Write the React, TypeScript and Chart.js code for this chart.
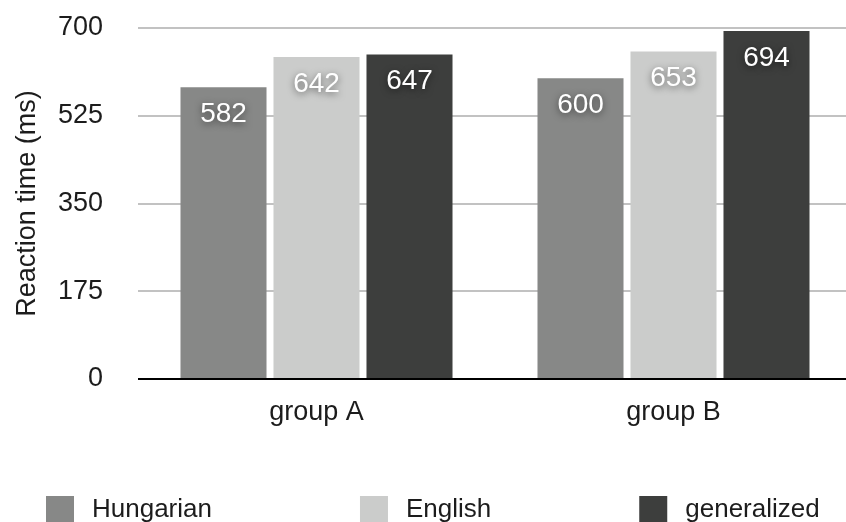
import React, { useEffect, useRef } from "react";
import { Chart, registerables } from "chart.js";

Chart.register(...registerables);

const categories = ["group A", "group B"];
const seriesNames = ["Hungarian", "English", "generalized"];
const hungarian = [582, 600];
const english = [642, 653];
const generalized = [647, 694];
const yTicks = [0, 175, 350, 525, 700];
const seriesColors = ["#878887", "#cbcccb", "#3d3e3d"];

const FONT = "'Helvetica Neue', Helvetica, 'Liberation Sans', Arial, sans-serif";
const TEXT = "#1c1c1c";

const valueLabels = {
  id: "valueLabels",
  afterDatasetsDraw(chart: any) {
    const ctx = chart.ctx;
    ctx.save();
    ctx.font = `28px ${FONT}`;
    ctx.textAlign = "center";
    ctx.textBaseline = "middle";
    ctx.fillStyle = "#ffffff";
    ctx.shadowColor = "rgba(0,0,0,0.55)";
    ctx.shadowBlur = 7;
    ctx.shadowOffsetY = 2;
    chart.data.datasets.forEach((ds: any, i: number) => {
      const meta = chart.getDatasetMeta(i);
      meta.data.forEach((bar: any, j: number) => {
        ctx.fillText(String(ds.data[j]), bar.x, bar.y + 27);
      });
    });
    ctx.restore();
  },
};

const bottomLegend = {
  id: "bottomLegend",
  afterDraw(chart: any) {
    const ctx = chart.ctx;
    const box = 28;
    const gapBoxText = 18;
    const gapItems = 148;
    const startX = 46;
    const cy = 510;
    ctx.save();
    ctx.font = `26px ${FONT}`;
    ctx.textBaseline = "middle";
    ctx.textAlign = "left";
    let x = startX;
    chart.data.datasets.forEach((ds: any) => {
      ctx.fillStyle = ds.backgroundColor;
      ctx.fillRect(x, cy - box / 2, box, box);
      ctx.fillStyle = TEXT;
      ctx.fillText(ds.label, x + box + gapBoxText, cy);
      x += box + gapBoxText + ctx.measureText(ds.label).width + gapItems;
    });
    ctx.restore();
  },
};

export default function App() {
  const ref = useRef<HTMLCanvasElement | null>(null);
  useEffect(() => {
    if (!ref.current) return;
    const seriesData = [hungarian, english, generalized];
    const chart = new Chart(ref.current, {
      type: "bar",
      data: {
        labels: categories,
        datasets: seriesNames.map((name, i) => ({
          label: name,
          data: seriesData[i],
          backgroundColor: seriesColors[i],
          borderWidth: 0,
          categoryPercentage: 0.7815,
          barPercentage: 0.925,
        })),
      },
      options: {
        responsive: false,
        animation: false,
        devicePixelRatio: 1,
        layout: { padding: { top: 28, right: 0, left: 0, bottom: 0 } },
        plugins: {
          legend: { display: false },
          tooltip: { enabled: false },
          title: { display: false },
        },
        scales: {
          x: {
            grid: { display: false, drawTicks: false },
            border: { display: false },
            ticks: {
              color: TEXT,
              font: { family: FONT, size: 27 },
              padding: 17,
              maxRotation: 0,
            },
            afterFit: (s: any) => {
              s.height = 157;
            },
          },
          y: {
            min: 0,
            max: 700,
            afterBuildTicks: (s: any) => {
              s.ticks = yTicks.map((v) => ({ value: v }));
            },
            grid: {
              drawTicks: false,
              lineWidth: 2,
              color: (c: any) => (c.tick && c.tick.value === 0 ? "#000000" : "#c2c2c2"),
            },
            border: { display: false },
            ticks: {
              color: TEXT,
              font: { family: FONT, size: 27 },
              padding: 35,
            },
            title: {
              display: true,
              text: "Reaction time (ms)",
              color: TEXT,
              font: { family: FONT, size: 27 },
              padding: { top: 11, bottom: 0 },
            },
            afterFit: (s: any) => {
              s.width = 138;
              s.paddingTop = 16;
              s.paddingBottom = 16;
            },
          },
        },
      },
      plugins: [valueLabels, bottomLegend],
    });
    return () => chart.destroy();
  }, []);

  return (
    <div
      style={{
        position: "fixed",
        left: 0,
        top: 0,
        width: 846,
        height: 522,
        overflow: "hidden",
        background: "#ffffff",
      }}
    >
      <canvas ref={ref} width={852} height={536} style={{ display: "block" }} />
    </div>
  );
}
